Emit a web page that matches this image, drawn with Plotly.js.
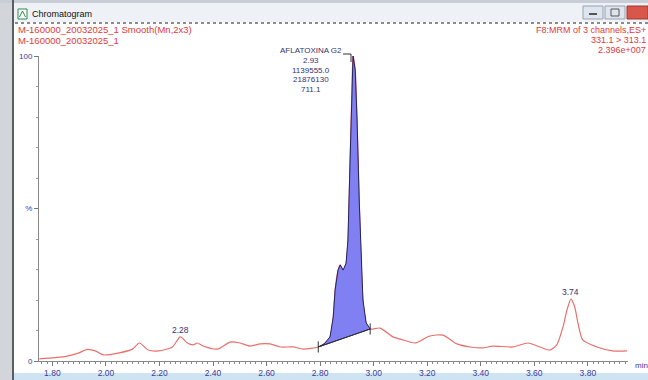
<!DOCTYPE html>
<html><head><meta charset="utf-8">
<script src="https://cdn.plot.ly/plotly-3.0.1.min.js"></script>
<style>html,body{margin:0;padding:0;background:#fff;}#c{width:648px;height:380px;}</style>
</head><body><div id="c"></div>
<script>
// Retention time (min) and relative intensity (%)
const rtTime = [1.751,1.811,1.860,1.897,1.931,1.960,1.990,2.046,2.099,2.125,2.158,2.196,2.248,2.278,2.304,2.326,2.341,2.363,2.416,2.464,2.501,2.539,2.576,2.613,2.651,2.699,2.737,2.793,
  2.815,2.837,2.849,2.856,2.867,2.875,2.886,2.897,2.904,2.912,2.919,2.923,2.931,2.938,2.946,2.953,2.960,2.972,2.987,
  3.024,3.072,3.110,3.154,3.181,3.210,3.259,3.311,3.360,3.408,3.446,3.520,3.576,3.621,3.658,3.684,3.707,3.722,3.737,3.751,3.763,3.781,3.834,3.893,3.946];
const intensity = [0.7,1.1,1.7,2.6,3.8,3.3,2.0,2.6,3.9,5.9,3.6,3.3,4.6,7.9,5.9,5.3,5.9,4.9,3.9,6.2,5.9,4.9,5.6,5.6,4.6,4.6,3.9,4.6,
  5.6,7.9,14.4,23.3,29.8,31.5,29.8,32.1,39.7,65.9,88.9,100,95.4,79.0,52.8,33.1,20.0,12.5,10.5,
  10.8,7.9,6.9,5.9,6.9,8.2,8.5,5.6,4.6,4.3,4.9,4.6,5.9,4.6,3.6,5.3,11.1,16.7,20.3,17.7,12.5,6.9,4.6,3.3,3.3];
// integrated peak limits (start, end)
const peakStart = [2.793, 4.6];
const peakEnd = [2.987, 10.5];
// peak labels
const peakLabelTimes = [2.278, 3.737];
const peakLabelVals = [7.9, 20.3];
const peakLabelText = ['2.28', '3.74'];
const mainPeakLines = ['AFLATOXINA G2', '2.93', '1139555.0', '21876130', '711.1'];
const xTickVals = [1.8,2.0,2.2,2.4,2.6,2.8,3.0,3.2,3.4,3.6,3.8];
const xTickText = ['1.80','2.00','2.20','2.40','2.60','2.80','3.00','3.20','3.40','3.60','3.80'];
const yTickVals = [0,50,100];
const yTickText = ['0','%','100'];
const headerLeft = ['M-160000_20032025_1 Smooth(Mn,2x3)', 'M-160000_20032025_1'];
const headerRight = ['F8:MRM of 3 channels,ES+', '331.1 > 313.1', '2.396e+007'];

// polygon of integrated area
const polyX = [], polyY = [];
for (let i = 0; i < rtTime.length; i++) {
  if (rtTime[i] >= peakStart[0] && rtTime[i] <= peakEnd[0]) { polyX.push(rtTime[i]); polyY.push(intensity[i]); }
}
polyX.push(peakStart[0]); polyY.push(peakStart[1]);

const F = 'Liberation Sans, Arial, sans-serif';
const P = px => (px - 39) / 589;
const Q = py => (361 - py) / 305;

const traces = [
  {x: rtTime, y: intensity, mode: 'lines', line: {color: '#e8706c', width: 1.2, shape: 'spline', smoothing: 0.7}, hoverinfo: 'skip'},
  {x: polyX, y: polyY, mode: 'lines', fill: 'toself', fillcolor: '#8080f2', line: {color: '#24245e', width: 1}, hoverinfo: 'skip'},
  {x: [peakStart[0], peakEnd[0]], y: [peakStart[1], peakEnd[1]], mode: 'lines+markers',
   line: {color: '#333', width: 1}, marker: {symbol: 'line-ns-open', size: 8, color: '#333', line: {width: 1, color: '#333'}}, hoverinfo: 'skip'}
];

const ann = [];
headerLeft.forEach((t, i) => ann.push({xref: 'paper', yref: 'paper', x: P(16), y: Q(30 + i * 10), xanchor: 'left', yanchor: 'middle', text: t, showarrow: false, font: {family: F, size: 9.5, color: '#e03a3a'}}));
headerRight.forEach((t, i) => ann.push({xref: 'paper', yref: 'paper', x: P(648), y: Q(30 + i * 10), xanchor: 'right', yanchor: 'middle', text: t, showarrow: false, font: {family: F, size: 9, color: '#e03a3a'}}));
mainPeakLines.forEach((t, i) => ann.push({xref: 'paper', yref: 'paper', x: P(311), y: Q(51 + i * 9.5), xanchor: 'center', yanchor: 'middle', text: t, showarrow: false, font: {family: F, size: 8, color: '#33336e'}}));
peakLabelText.forEach((t, i) => ann.push({x: peakLabelTimes[i], y: peakLabelVals[i], xref: 'x', yref: 'y', yanchor: 'bottom', yshift: 0, text: t, showarrow: false, font: {family: F, size: 8.5, color: '#33336e'}}));
ann.push({xref: 'paper', yref: 'paper', x: P(633), y: Q(365), xanchor: 'left', yanchor: 'middle', text: 'min', showarrow: false, font: {family: F, size: 8, color: '#3a3aa0'}});
ann.push({xref: 'paper', yref: 'paper', x: P(30), y: Q(14), xanchor: 'left', yanchor: 'middle', text: 'Chromatogram', showarrow: false, font: {family: F, size: 9, color: '#111'}});

const shapes = [
  {type: 'rect', xref: 'paper', yref: 'paper', x0: P(0), x1: P(12), y0: Q(0), y1: Q(380), fillcolor: '#d2d6db', line: {width: 0}, layer: 'below'},
  {type: 'line', xref: 'paper', yref: 'paper', x0: P(13), x1: P(13), y0: Q(0), y1: Q(380), line: {color: '#5a5f66', width: 2}},
  {type: 'rect', xref: 'paper', yref: 'paper', x0: P(14), x1: P(648), y0: Q(0), y1: Q(22), fillcolor: '#eef1f5', line: {width: 0}, layer: 'below'},
  {type: 'rect', xref: 'paper', yref: 'paper', x0: P(0), x1: P(648), y0: Q(0), y1: Q(3), fillcolor: '#c9ced6', line: {width: 0}, layer: 'below'},
  {type: 'line', xref: 'paper', yref: 'paper', x0: P(15), x1: P(648), y0: Q(23), y1: Q(23), line: {color: '#666', width: 1.5, dash: 'dot'}},
  {type: 'rect', xref: 'paper', yref: 'paper', x0: P(18), x1: P(27), y0: Q(19), y1: Q(9), fillcolor: '#ffffff', line: {color: '#2e8a4a', width: 1}},
  {type: 'path', xref: 'paper', yref: 'paper', path: `M ${P(19.5)} ${Q(17)} L ${P(22.5)} ${Q(11)} L ${P(25.5)} ${Q(17)}`, line: {color: '#2e8a4a', width: 1}},
  {type: 'rect', xref: 'paper', yref: 'paper', x0: P(583), x1: P(603), y0: Q(19), y1: Q(6), fillcolor: '#dfe5ee', line: {color: '#9aa3ae', width: 1}},
  {type: 'line', xref: 'paper', yref: 'paper', x0: P(589), x1: P(597), y0: Q(14), y1: Q(14), line: {color: '#555', width: 2}},
  {type: 'rect', xref: 'paper', yref: 'paper', x0: P(605), x1: P(625), y0: Q(19), y1: Q(6), fillcolor: '#dfe5ee', line: {color: '#9aa3ae', width: 1}},
  {type: 'rect', xref: 'paper', yref: 'paper', x0: P(611), x1: P(619), y0: Q(16), y1: Q(9), line: {color: '#555', width: 1}},
  {type: 'rect', xref: 'paper', yref: 'paper', x0: P(627), x1: P(648), y0: Q(19), y1: Q(6), fillcolor: '#d9574a', line: {color: '#9a3a30', width: 1}},
  {type: 'rect', xref: 'paper', yref: 'paper', x0: P(14), x1: P(648), y0: Q(373), y1: Q(380), fillcolor: '#cfe4f3', line: {width: 0}, layer: 'below'},
  {type: 'path', xref: 'paper', yref: 'paper', path: `M ${P(343)} ${Q(54)} L ${P(351)} ${Q(54)} L ${P(351)} ${Q(62)}`, line: {color: '#333', width: 1}}
];

const layout = {
  width: 648, height: 380,
  margin: {l: 39, r: 20, t: 56, b: 19, pad: 0},
  paper_bgcolor: '#ffffff', plot_bgcolor: '#ffffff',
  showlegend: false,
  font: {family: F, size: 8, color: '#3a3aa0'},
  xaxis: {range: [1.75, 3.95], tickvals: xTickVals, ticktext: xTickText, ticks: 'outside', ticklen: 4, tickcolor: '#777',
    tickfont: {family: F, size: 8.5, color: '#3a3aa0'}, showgrid: false, zeroline: false, showline: true, linecolor: '#888', linewidth: 1,
    minor: {dtick: 0.02, tick0: 1.8, ticks: 'outside', ticklen: 2, tickcolor: '#888', showgrid: false}},
  yaxis: {range: [0, 100], tickvals: yTickVals, ticktext: yTickText, ticks: 'outside', ticklen: 4, tickcolor: '#777',
    tickfont: {family: F, size: 8, color: '#3a3aa0'}, showgrid: false, zeroline: false, showline: true, linecolor: '#888', linewidth: 1,
    minor: {dtick: 10, tick0: 0, ticks: 'outside', ticklen: 2, tickcolor: '#999', showgrid: false}},
  annotations: ann,
  shapes: shapes
};
Plotly.newPlot('c', traces, layout, {displayModeBar: false, staticPlot: true});
</script></body></html>
